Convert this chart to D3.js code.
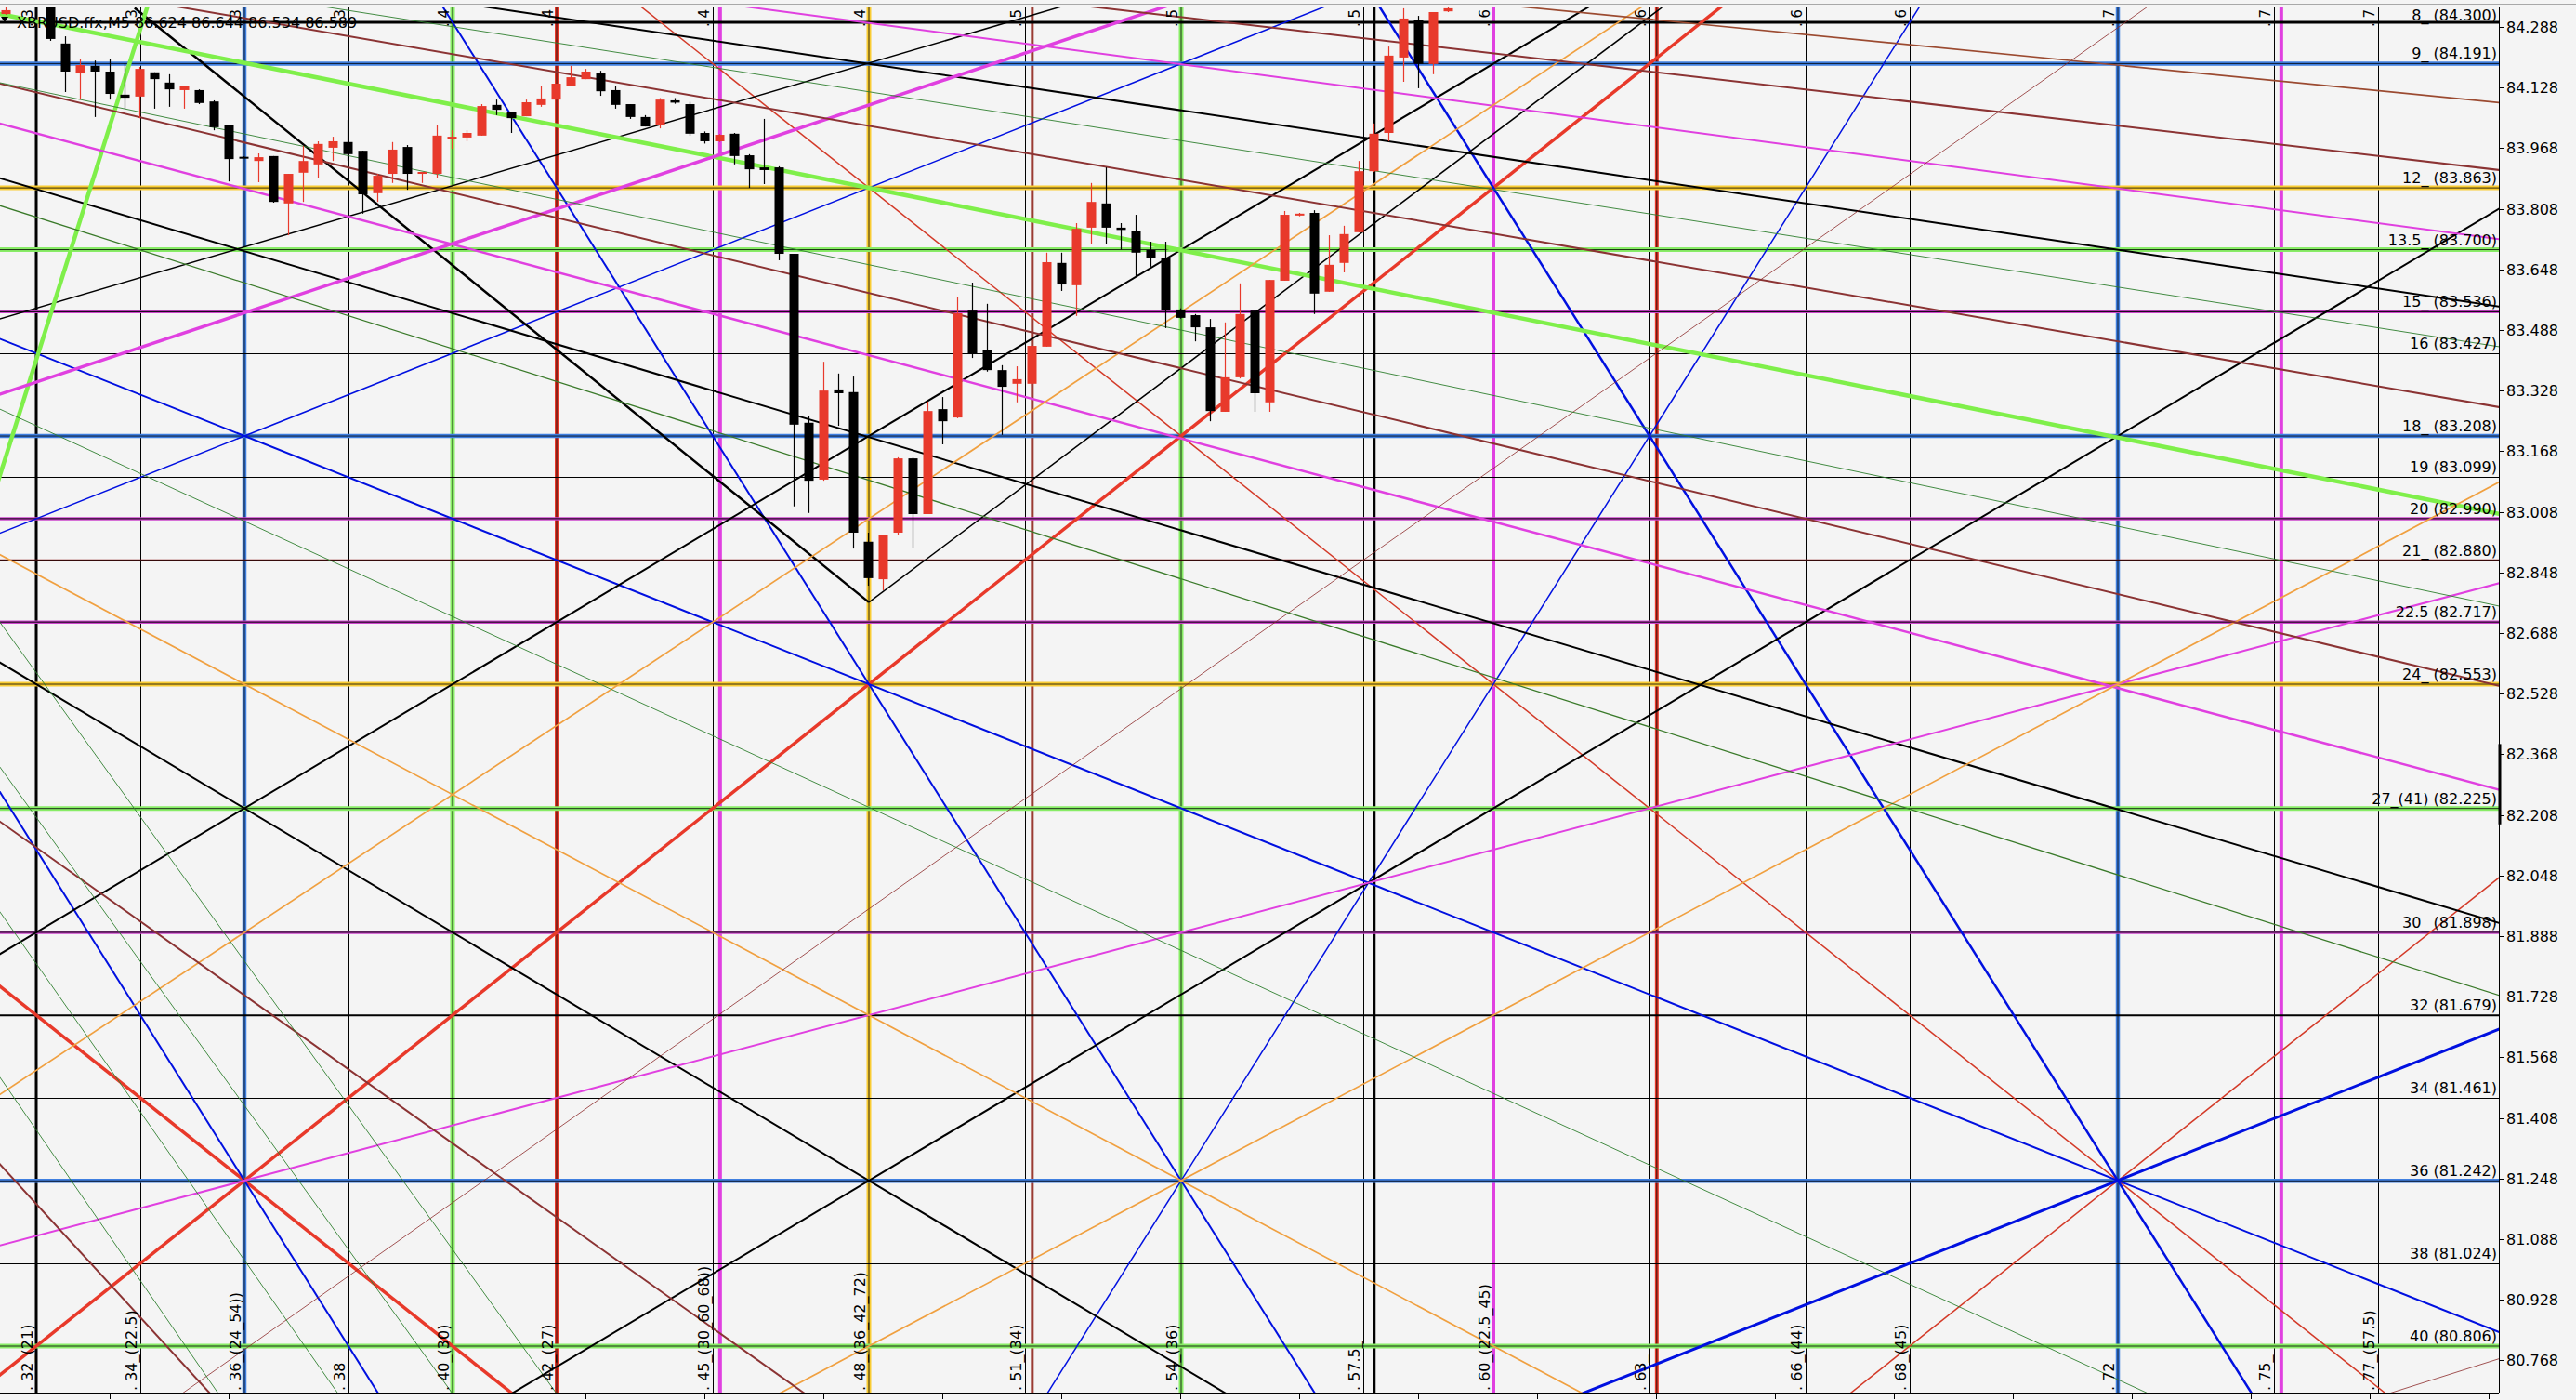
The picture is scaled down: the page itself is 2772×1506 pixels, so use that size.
<!DOCTYPE html>
<html><head><meta charset="utf-8">
<script src="https://cdn.jsdelivr.net/npm/d3@7"></script>
<style>
html,body{margin:0;padding:0;background:#f4f4f4;overflow:hidden;}
svg{display:block;}
text{font-family:"DejaVu Sans",Verdana,sans-serif;font-size:16px;fill:#000;}
</style></head><body>
<svg id="c" width="2772" height="1506"></svg>
<script>
// ---------------- DATA ----------------
const titleText = "XBRUSD.ffx,M5  86.624 86.644 86.534 86.589";

const priceTicks = [84.288,84.128,83.968,83.808,83.648,83.488,83.328,83.168,83.008,82.848,82.688,82.528,82.368,82.208,82.048,81.888,81.728,81.568,81.408,81.248,81.088,80.928,80.768];

const levelNums   = [8,9,12,13.5,15,16,18,19,20,21,22.5,24,27,30,32,34,36,38,40];
const levelPrices = [84.300,84.191,83.863,83.700,83.536,83.427,83.208,83.099,82.990,82.880,82.717,82.553,82.225,81.898,81.679,81.461,81.242,81.024,80.806];
const levelLabels = ["8_ (84.300)","9_ (84.191)","12_ (83.863)","13.5_ (83.700)","15_ (83.536)","16 (83.427)","18_ (83.208)","19 (83.099)","20 (82.990)","21_ (82.880)","22.5 (82.717)","24_ (82.553)","27_(41) (82.225)","30_ (81.898)","32 (81.679)","34 (81.461)","36 (81.242)","38 (81.024)","40 (80.806)"];
const levelKinds  = ["black3","gridBlue","gold","lgreen","purple","thin","gridBlue","thin","purple","darkred","purple","gold","lgreen","purple","black2","thin","gridBlue","thin","lgreen"];

const timeNums   = [32,34,36,38,40,42,45,48,51,54,57.5,60,63,66,68,72,75,77];
const timeLabels = [". 32_(21)",". 34_(22.5)",". 36_(24_54))",". 38",". 40_(30)",". 42_(27)",". 45_(30_60_68))",". 48_(36_42_72)",". 51_(34)",". 54_(36)",". 57.5_",". 60_(22.5_45)",". 63_",". 66_(44)",". 68_(45)",". 72",". 75_",". 77_(57.5)"];
const timeKinds  = ["black3","thin","gridBlue","thin","lgreen","vred","thin","gold","thin","lgreen","thin","vmagenta","thin","thin","thin","gridBlue","thin","thin"];
const extraTimes = [45.14,51.14,57.71,63.14,75.14];
const extraKinds = ["vmagenta","vbrown","black3","vred","vmagenta"];

// candles (bar index, open, high, low, close)
const candleBar   = [-3,0,1,2,3,4,5,6,7,8,9,10,11,12,13,14,15,16,17,18,19,20,21,22,23,24,25,26,27,28,29,30,31,32,33,34,35,36,37,38,39,40,41,42,43,44,45,46,47,48,49,50,51,52,53,54,55,56,57,58,59,60,61,62,63,64,65,66,67,68,69,70,71,72,73,74,75,76,77,78,79,80,81,82,83,84,85,86,87,88,89,90,91,92,93,94];
const candleOpen  = [84.322,84.360,84.244,84.165,84.185,84.170,84.109,84.104,84.168,84.141,84.121,84.121,84.091,84.028,83.945,83.934,83.947,83.822,83.903,83.925,83.969,83.984,83.961,83.849,83.900,83.971,83.900,83.900,83.996,83.996,84.001,84.082,84.062,84.052,84.082,84.096,84.133,84.150,84.165,84.121,84.084,84.050,84.028,84.094,84.084,84.008,83.986,84.006,83.949,83.917,83.917,83.689,83.243,83.093,83.331,83.324,82.929,82.830,82.953,83.149,83.002,83.279,83.257,83.539,83.436,83.382,83.346,83.346,83.444,83.665,83.606,83.758,83.822,83.758,83.750,83.699,83.677,83.542,83.527,83.495,83.272,83.363,83.539,83.297,83.618,83.790,83.797,83.589,83.665,83.746,83.907,84.008,84.207,84.307,84.190,84.329];
const candleHigh  = [84.340,84.370,84.263,84.204,84.199,84.204,84.192,84.182,84.168,84.163,84.131,84.123,84.094,84.028,83.946,83.954,83.947,83.900,83.974,83.986,83.998,84.042,83.961,83.900,83.984,83.976,83.905,84.028,84.015,84.015,84.084,84.096,84.064,84.096,84.131,84.138,84.185,84.177,84.172,84.131,84.084,84.055,84.100,84.100,84.090,84.012,84.005,84.008,83.952,84.045,83.920,83.689,83.262,83.404,83.373,83.365,82.953,82.948,83.152,83.152,83.299,83.311,83.574,83.613,83.557,83.395,83.392,83.450,83.692,83.692,83.770,83.876,83.917,83.770,83.792,83.721,83.721,83.545,83.530,83.517,83.508,83.611,83.539,83.620,83.802,83.797,83.804,83.738,83.763,83.934,84.033,84.236,84.337,84.317,84.327,84.340];
const candleLow   = [84.320,84.251,84.116,84.096,84.050,84.096,84.072,84.047,84.072,84.077,84.072,84.084,84.015,83.880,83.943,83.878,83.824,83.738,83.826,83.888,83.934,83.934,83.795,83.826,83.876,83.858,83.876,83.890,83.966,83.986,84.001,84.055,84.008,84.052,84.077,84.096,84.133,84.150,84.106,84.072,84.045,84.025,84.020,84.085,84.000,83.980,83.984,83.925,83.863,83.873,83.672,83.022,83.005,83.090,83.235,82.911,82.813,82.801,82.948,82.911,83.002,83.186,83.255,83.414,83.378,83.211,83.297,83.340,83.444,83.591,83.525,83.714,83.716,83.700,83.630,83.655,83.493,83.518,83.458,83.247,83.272,83.360,83.272,83.272,83.618,83.788,83.530,83.589,83.640,83.746,83.905,83.986,84.143,84.126,84.163,84.327];
const candleClose = [84.332,84.256,84.170,84.187,84.170,84.111,84.101,84.177,84.150,84.123,84.131,84.087,84.023,83.939,83.944,83.944,83.826,83.900,83.934,83.979,83.986,83.952,83.846,83.895,83.964,83.900,83.905,84.001,83.998,84.008,84.079,84.069,84.047,84.089,84.099,84.138,84.155,84.170,84.118,84.082,84.050,84.025,84.096,84.088,84.006,83.986,84.003,83.947,83.912,83.910,83.689,83.238,83.090,83.328,83.321,82.953,82.833,82.948,83.149,83.002,83.274,83.247,83.532,83.424,83.382,83.338,83.358,83.446,83.667,83.608,83.755,83.826,83.758,83.752,83.692,83.677,83.539,83.520,83.495,83.274,83.363,83.530,83.321,83.620,83.792,83.795,83.584,83.660,83.741,83.907,84.006,84.212,84.310,84.190,84.327,84.337];

// Gann construction lines: [time1, level1, time2, level2, kind, extend]
const fanLines = [
  [36,36, 48,24, "redThick", 1],
  [36,36, 40,40, "redThick", 1],
  [48,12, 72,36, "redThin", 1],
  [72,36, 79,29, "redThin", 1],
  [36,18, 48,24, "blue2", 1],
  [36,18, 48,12, "blue15", 1],
  [48,24, 54,36, "blue2", 1],
  [34,32, 36,36, "blue2", 1],
  [54,36, 60,24, "blue15", 1],
  [60,12, 72,36, "blue25", 1],
  [72,36, 78,33, "blue3", 1],
  [36,27, 48,36, "black2", 1],
  [48,36, 72,18, "black2", 1],
  [36,27, 48,18, "black2", 1],
  [31.30,11.77, 79.32,29.77, "black2", 1],
  [40.71,7.64, 79.32,14.87, "black2", 1],
  [31.30,15.17, 51.64,7.64, "black15", 1],
  [33.89,7.65, 48.0,22.02, "black25", 0],
  [48.0,22.02, 63.24,7.64, "black15", 0],
  [31.30,7.80, 79.32,19.88, "bgreen", 1],
  [31.30,18.96, 34.13,7.64, "bgreen", 1],
  [31.30,16.99, 53.64,7.64, "magThick", 1],
  [31.30,10.45, 79.32,26.55, "mag2", 1],
  [36,36, 72,24, "mag15", 1],
  [45.75,7.64, 79.32,13.24, "mag15", 1],
  [36,24, 54,36, "orange", 1],
  [54,36, 72,24, "orange", 1],
  [36,30, 48,20, "orange", 1],
  [34.80,41.15, 72.55,7.64, "dred", 1],
  [77.20,41.15, 79.34,40.30, "dred", 1],
  [61.09,7.69, 79.32,9.94, "brownL", 1],
  [52.41,7.64, 79.32,11.57, "brown", 1],
  [34.80,7.64, 79.32,17.30, "brown", 1],
  [31.30,9.48, 79.32,24.04, "brown", 1],
  [31.30,27.32, 46.77,41.15, "brown", 1],
  [32.07,36.66, 35.30,41.09, "brown", 1],
  [31.30,12.43, 79.32,31.52, "dgreen15", 1],
  [31.30,9.46, 79.32,22.11, "dgreen", 1],
  [37.63,7.64, 79.32,15.84, "dgreen", 1],
  [31.30,17.35, 72.59,41.15, "dgreen", 1],
  [31.30,22.5, 42.0,41.15, "dgreen", 1],
  [31.30,26.0, 40.0,41.15, "dgreen", 1],
  [31.30,29.5, 37.8,41.15, "dgreen", 1],
  [31.30,33.5, 35.5,41.15, "dgreen", 1]
];
const priceMarker = [82.395, 82.183];

// ---------------- STYLES ----------------
const S = {
  black3:{c:"#000",w:3}, black2:{c:"#000",w:2}, black25:{c:"#000",w:2.5}, black15:{c:"#000",w:1.5}, thin:{c:"#000",w:1},
  gridBlue:{c:"#3f7fe0",w:4.5,core:0.8}, gold:{c:"#f9cc33",w:5,core:0.8}, lgreen:{c:"#88ec66",w:5,core:0.8},
  purple:{c:"#cc44cc",w:3.5,core:1}, darkred:{c:"#8e1c1c",w:2.2,core:0.8},
  vred:{c:"#e8392a",w:4,core:0.8}, vmagenta:{c:"#e040e0",w:4}, vbrown:{c:"#9a3b32",w:3},
  redThick:{c:"#e8392a",w:3.5}, redThin:{c:"#d33a28",w:1.5},
  blue2:{c:"#0010e0",w:2}, blue15:{c:"#0010e0",w:1.5}, blue25:{c:"#0010e0",w:2.5}, blue3:{c:"#0010e0",w:3},
  bgreen:{c:"#7fef4a",w:4.5}, magThick:{c:"#e040e0",w:3.5}, mag2:{c:"#e040e0",w:2.5}, mag15:{c:"#e040e0",w:2},
  orange:{c:"#f0a040",w:1.7}, dred:{c:"#8b2a2a",w:0.8}, brown:{c:"#8b3333",w:2}, brownL:{c:"#9b4a30",w:1.7},
  dgreen:{c:"#2f7f2f",w:0.9}, dgreen15:{c:"#3a7a2a",w:1.3}
};

// ---------------- SCALES ----------------
const PL=0, PR=2689, PT=8, PB=1499;
const x = d3.scaleLinear().domain([32,77]).range([39,2559]);
const y = d3.scaleLinear().domain([84.300,80.806]).range([24,1448]);
const levelToPrice = d3.scaleLinear().domain([8,40]).range([84.300,80.806]);
const xBar = d3.scaleLinear().domain([0,94]).range([54,1558]);

const svg = d3.select("#c");
svg.append("rect").attr("width",2772).attr("height",1506).attr("fill","#f4f4f4");
svg.append("defs").append("clipPath").attr("id","plot").append("rect")
  .attr("x",PL).attr("y",PT).attr("width",PR-PL).attr("height",PB-PT);
const g = svg.append("g").attr("clip-path","url(#plot)");

function hline(sel, py, st){
  sel.append("line").attr("x1",PL).attr("x2",PR).attr("y1",py).attr("y2",py)
    .attr("stroke",st.c).attr("stroke-width",st.w);
  if(st.core) sel.append("line").attr("x1",PL).attr("x2",PR).attr("y1",py).attr("y2",py)
    .attr("stroke","#000").attr("stroke-width",st.core);
}
function vline(sel, px, st){
  sel.append("line").attr("y1",PT).attr("y2",PB).attr("x1",px).attr("x2",px)
    .attr("stroke",st.c).attr("stroke-width",st.w);
  if(st.core) sel.append("line").attr("y1",PT).attr("y2",PB).attr("x1",px).attr("x2",px)
    .attr("stroke","#000").attr("stroke-width",st.core);
}

// vertical time lines
const gv = g.append("g");
timeNums.forEach((t,i)=>{ if(timeKinds[i]==="thin") vline(gv, Math.round(x(t))+0.5, S.thin); });
extraTimes.forEach((t,i)=> vline(gv, x(t), S[extraKinds[i]]));
timeNums.forEach((t,i)=>{ if(timeKinds[i]!=="thin") vline(gv, x(t), S[timeKinds[i]]); });

// horizontal levels
const gh = g.append("g");
levelPrices.forEach((p,i)=>{ const st=S[levelKinds[i]]; hline(gh, st.w===1? Math.round(y(p))+0.5 : y(p), st); });

// fan lines
const gf = g.append("g");
fanLines.forEach(d=>{
  const st=S[d[4]];
  let x1=x(d[0]), y1=y(levelToPrice(d[1])), x2=x(d[2]), y2=y(levelToPrice(d[3]));
  if(d[5]){
    const dx=x2-x1, dy=y2-y1, L=Math.hypot(dx,dy), k=6000/L;
    const nx1=x1-dx*k, ny1=y1-dy*k, nx2=x2+dx*k, ny2=y2+dy*k;
    x1=nx1;y1=ny1;x2=nx2;y2=ny2;
  }
  gf.append("line").attr("x1",x1).attr("y1",y1).attr("x2",x2).attr("y2",y2)
    .attr("stroke",st.c).attr("stroke-width",st.w).attr("stroke-linecap","butt");
});

// candles
const gc = g.append("g");
candleBar.forEach((b,i)=>{
  const o=candleOpen[i], h=candleHigh[i], l=candleLow[i], c=candleClose[i];
  const cx=Math.round(xBar(b))+0.5, up=c>=o, col=up?"#e8392b":"#000";
  gc.append("line").attr("x1",cx).attr("x2",cx).attr("y1",y(h)).attr("y2",y(l)).attr("stroke",col).attr("stroke-width",1.2);
  const top=y(Math.max(o,c)), bot=y(Math.min(o,c));
  gc.append("rect").attr("x",cx-5).attr("width",10).attr("y",top).attr("height",Math.max(2,bot-top)).attr("fill",col);
});

// level labels
const gl = svg.append("g");
levelPrices.forEach((p,i)=>{
  gl.append("text").attr("x",PR-2).attr("y",Math.max(22,y(p)-5)).attr("text-anchor","end").text(levelLabels[i]);
});
// time labels: full text at the bottom, leading part visible at the top
timeNums.forEach((t,i)=>{
  const px=x(t)-4;
  gl.append("text").attr("transform",`translate(${px},${PB-3}) rotate(-90)`).text(timeLabels[i]);
  gl.append("text").attr("transform",`translate(${px},29) rotate(-90)`).style("font-size","15px").text(timeLabels[i].slice(0,3));
});

// title
gl.append("text").attr("x",18).attr("y",30).style("font-size","16px").text(titleText);
gl.append("path").attr("d","M1,18 L9,18 L5,24 Z").attr("fill","#000");

// axes frame
svg.append("line").attr("x1",0).attr("x2",2772).attr("y1",4.5).attr("y2",4.5).attr("stroke","#a8a8a8").attr("stroke-width",1);
svg.append("line").attr("x1",PR+0.5).attr("x2",PR+0.5).attr("y1",PT).attr("y2",PB).attr("stroke","#000");
svg.append("line").attr("x1",PL).attr("x2",PR).attr("y1",PB+0.5).attr("y2",PB+0.5).attr("stroke","#000");
// bottom ticks every 8 bars
d3.range(4,170,8).forEach(b=>{ const px=Math.round(xBar(b))+0.5; if(px<PR) svg.append("line").attr("x1",px).attr("x2",px).attr("y1",PB).attr("y2",PB+6).attr("stroke","#000"); });
// right price axis
const ga = svg.append("g");
priceTicks.forEach(p=>{
  const py=Math.round(y(p))+0.5;
  ga.append("line").attr("x1",PR).attr("x2",PR+6).attr("y1",py).attr("y2",py).attr("stroke","#000");
  ga.append("text").attr("x",PR+8).attr("y",py+1).attr("dominant-baseline","middle").text(p.toFixed(3));
});
ga.append("line").attr("x1",PR+1).attr("x2",PR+1).attr("y1",y(priceMarker[0])).attr("y2",y(priceMarker[1])).attr("stroke","#000").attr("stroke-width",3);
</script>
</body></html>
